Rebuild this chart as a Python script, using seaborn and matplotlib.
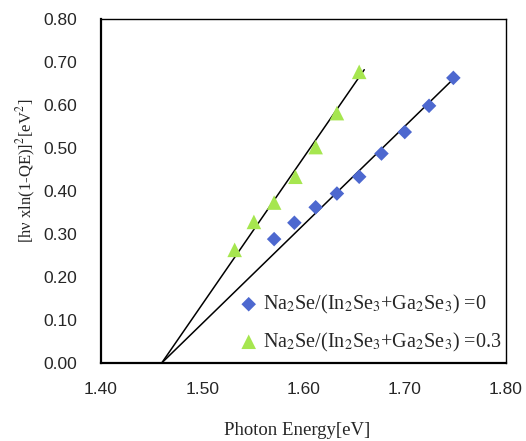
import matplotlib
matplotlib.use("Agg")
import matplotlib.pyplot as plt
import seaborn as sns
import pandas as pd

sns.set_style("white")
plt.rcParams['font.family'] = ['Liberation Sans', 'DejaVu Sans']
plt.rcParams['mathtext.fontset'] = 'stix'

# data
energy_0 = [1.571, 1.591, 1.612, 1.633, 1.655, 1.677, 1.700, 1.724, 1.748]
value_0 = [0.288, 0.326, 0.362, 0.394, 0.433, 0.487, 0.537, 0.598, 0.663]
energy_03 = [1.532, 1.551, 1.571, 1.592, 1.612, 1.633, 1.655]
value_03 = [0.263, 0.328, 0.373, 0.433, 0.502, 0.581, 0.677]

# straight-line fits (extrapolated to the x axis)
fit_x_0 = [1.46, 1.750]
fit_y_0 = [0.0, 0.665]
fit_x_03 = [1.46, 1.660]
fit_y_03 = [0.0, 0.682]

label_0 = r'Na$_2$Se/(In$_2$Se$_3$+Ga$_2$Se$_3$) =0'
label_03 = r'Na$_2$Se/(In$_2$Se$_3$+Ga$_2$Se$_3$) =0.3'

x_ticks = [1.40, 1.50, 1.60, 1.70, 1.80]
y_ticks = [0.00, 0.10, 0.20, 0.30, 0.40, 0.50, 0.60, 0.70, 0.80]

fig = plt.figure(figsize=(5.26, 4.41), dpi=100)
ax = fig.add_axes([0.192, 0.177, 0.770, 0.780])

sns.lineplot(x=fit_x_0, y=fit_y_0, color='black', linewidth=1.1, ax=ax)
sns.lineplot(x=fit_x_03, y=fit_y_03, color='black', linewidth=1.1, ax=ax)

sns.scatterplot(x=energy_0, y=value_0, marker='D', s=55, color='#4D68CF',
                edgecolor='none', label=label_0, ax=ax, zorder=3)
sns.scatterplot(x=energy_03, y=value_03, marker='^', s=110, color='#A6E64F',
                edgecolor='none', label=label_03, ax=ax, zorder=3)

ax.set_xlim(1.40, 1.80)
ax.set_ylim(0.0, 0.80)
ax.set_xticks(x_ticks)
ax.set_yticks(y_ticks)
ax.set_xticklabels([f'{t:.2f}' for t in x_ticks], fontsize=12.5)
ax.set_yticklabels([f'{t:.2f}' for t in y_ticks], fontsize=12.5)
ax.tick_params(axis='x', direction='in', length=4, width=1, pad=14, color='black')
ax.tick_params(axis='y', length=0, pad=17)

for side in ['left', 'bottom']:
    ax.spines[side].set_linewidth(1.6)
    ax.spines[side].set_color('black')
for side in ['top', 'right']:
    ax.spines[side].set_linewidth(1.0)
    ax.spines[side].set_color('black')

ax.set_xlabel('Photon Energy[eV]', family='Liberation Serif', fontsize=13.5)
ax.xaxis.set_label_coords(0.485, -0.172)
ax.set_ylabel(r'[hν xln(1-QE)]$^2$[eV$^2$]', family='Liberation Serif', fontsize=12)
ax.yaxis.set_label_coords(-0.155, 0.558)

ax.legend(loc='lower left', bbox_to_anchor=(0.31, -0.002), frameon=False,
          prop={'family': 'Liberation Serif', 'size': 14.5},
          handlelength=1.2, handletextpad=0.1, labelspacing=0.72, borderpad=0)

fig.savefig('out.png', dpi=100)
